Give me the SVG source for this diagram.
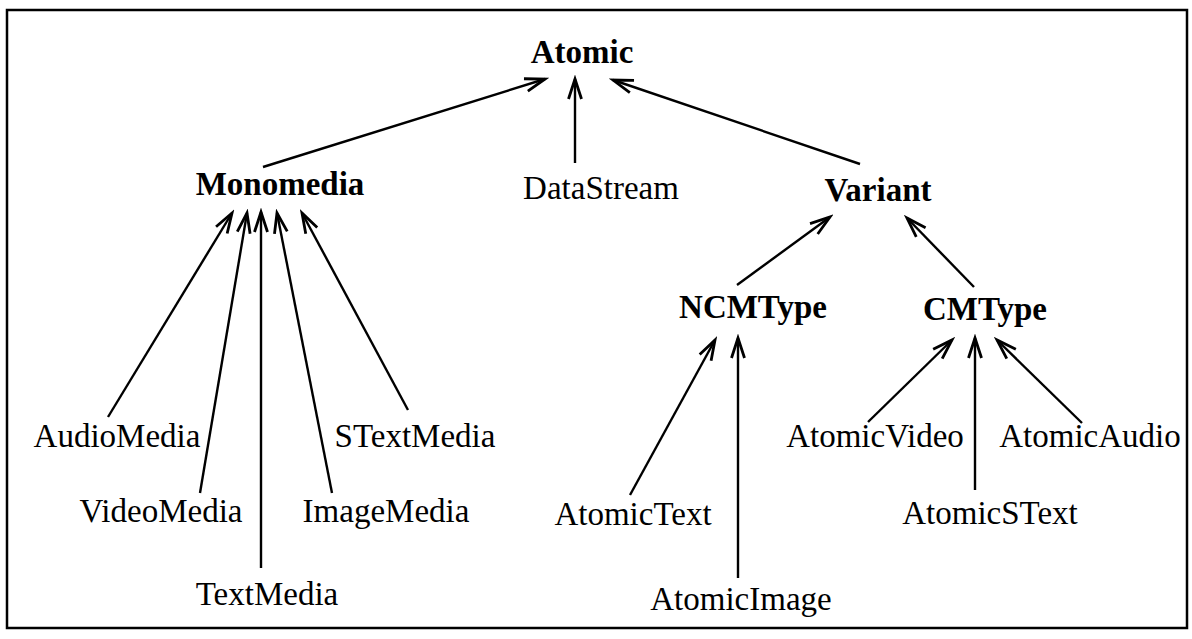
<svg xmlns="http://www.w3.org/2000/svg" width="1192" height="639" viewBox="0 0 1192 639">
  <style>
    .lbl { font-family: "Liberation Serif", "Times New Roman", serif; font-size: 33px; fill: #000; text-anchor: middle; }
    .b { font-weight: bold; }
    .edge { stroke: #000; stroke-width: 2.4; fill: none; marker-end: url(#open); }
  </style>
  <defs>
    <!-- open V arrowhead for the "is-a" links -->
    <marker id="open" viewBox="-24 -10 28 20" refX="0" refY="0" markerWidth="28" markerHeight="20" markerUnits="userSpaceOnUse" orient="auto">
      <path d="M-20,-6.5 L0,0 L-20,6.5" fill="none" stroke="#000" stroke-width="2.8" stroke-linejoin="miter"/>
    </marker>
  </defs>
  <rect width="1192" height="639" fill="#fff"/>
  <!-- frame -->
  <rect x="7" y="10" width="1180" height="618" fill="none" stroke="#000" stroke-width="2.5"/>

  <g id="connectors">
    <line class="edge" x1="263" y1="167" x2="545" y2="79"/>
    <line class="edge" x1="575" y1="163" x2="575" y2="79"/>
    <line class="edge" x1="860" y1="164" x2="613" y2="80"/>
    <line class="edge" x1="108" y1="417" x2="232" y2="213"/>
    <line class="edge" x1="200" y1="493" x2="247" y2="213"/>
    <line class="edge" x1="261" y1="568" x2="261" y2="212"/>
    <line class="edge" x1="332" y1="493" x2="277" y2="213"/>
    <line class="edge" x1="408" y1="410" x2="302" y2="213"/>
    <line class="edge" x1="737" y1="285" x2="830" y2="217"/>
    <line class="edge" x1="974" y1="287" x2="907" y2="218"/>
    <line class="edge" x1="630" y1="495" x2="715" y2="340"/>
    <line class="edge" x1="738" y1="578" x2="738" y2="338"/>
    <line class="edge" x1="868" y1="422" x2="952" y2="340"/>
    <line class="edge" x1="975" y1="490" x2="975" y2="338"/>
    <line class="edge" x1="1082" y1="423" x2="997" y2="340"/>
  </g>

  <g id="atomic"><text class="lbl b" x="582" y="63">Atomic</text></g>
  <g id="monomedia"><text class="lbl b" x="280" y="195">Monomedia</text></g>
  <g id="datastream"><text class="lbl" x="601" y="199">DataStream</text></g>
  <g id="variant"><text class="lbl b" x="878" y="201">Variant</text></g>
  <g id="ncmtype"><text class="lbl b" x="753" y="318">NCMType</text></g>
  <g id="cmtype"><text class="lbl b" x="985" y="320">CMType</text></g>
  <g id="audiomedia"><text class="lbl" x="117" y="447">AudioMedia</text></g>
  <g id="videomedia"><text class="lbl" x="161" y="522">VideoMedia</text></g>
  <g id="textmedia"><text class="lbl" x="267" y="605">TextMedia</text></g>
  <g id="imagemedia"><text class="lbl" x="386" y="522">ImageMedia</text></g>
  <g id="stextmedia"><text class="lbl" x="415" y="447">STextMedia</text></g>
  <g id="atomictext"><text class="lbl" x="633" y="525">AtomicText</text></g>
  <g id="atomicimage"><text class="lbl" x="741" y="610">AtomicImage</text></g>
  <g id="atomicvideo"><text class="lbl" x="875" y="447">AtomicVideo</text></g>
  <g id="atomicstext"><text class="lbl" x="990" y="524">AtomicSText</text></g>
  <g id="atomicaudio"><text class="lbl" x="1090" y="447">AtomicAudio</text></g>
</svg>
